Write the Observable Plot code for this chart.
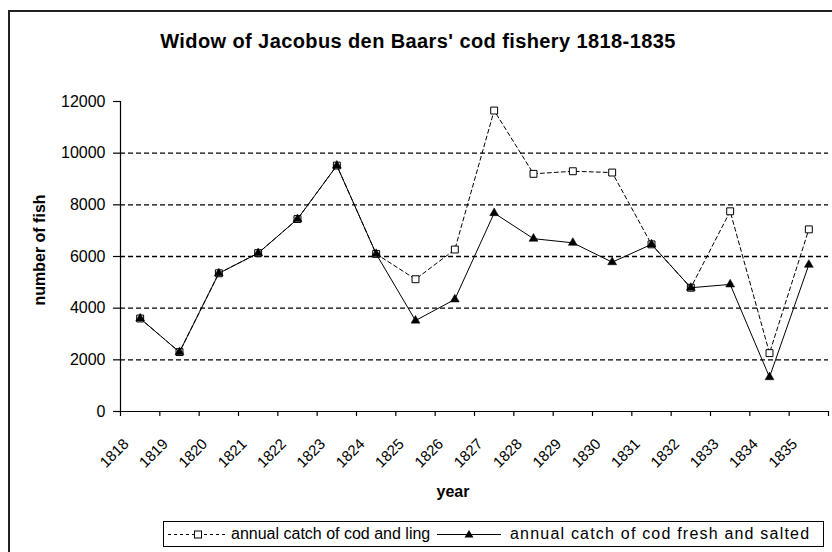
<!DOCTYPE html>
<html><head><meta charset="utf-8">
<script src="https://cdn.jsdelivr.net/npm/d3@7"></script>
<script src="https://cdn.jsdelivr.net/npm/@observablehq/plot@0.6"></script>
<style>
body{margin:0;background:#fff;font-family:Arial,"Liberation Sans",sans-serif;color:#000}
#wrap{position:relative;width:832px;height:552px;overflow:hidden;background:#fff}
#chart{position:absolute;left:0;top:0}
#frame{position:absolute;left:8px;top:10px;width:900px;height:600px;border:2px solid #222;box-sizing:border-box;pointer-events:none}
#title{position:absolute;left:0;width:836px;top:30px;text-align:center;font-weight:bold;font-size:20px;letter-spacing:0.4px;white-space:nowrap}
#ylab{position:absolute;left:40px;top:250px;transform:translate(-50%,-50%) rotate(-90deg);font-weight:bold;font-size:16px;white-space:nowrap}
#xlab{position:absolute;left:453px;top:492px;transform:translate(-50%,-50%);font-weight:bold;font-size:16px;white-space:nowrap}
#legend{position:absolute;left:163px;top:521px;width:661px;height:26px;border:1px solid #000;box-sizing:border-box;font-size:16px}
.lsym{position:absolute;top:0}
.ltxt{position:absolute;top:3px;white-space:nowrap}
</style>
</head><body>
<div id="wrap">
  <div id="chart"></div>
  <div id="title">Widow of Jacobus den Baars' cod fishery 1818-1835</div>
  <div id="ylab">number of fish</div>
  <div id="xlab">year</div>
  <div id="legend">
    <svg class="lsym" style="left:3px" width="62" height="24"><line x1="1" x2="61" y1="12.5" y2="12.5" stroke="#000" stroke-dasharray="3,3"/><rect x="27.5" y="9" width="7" height="7" fill="#fff" stroke="#000"/></svg>
    <div class="ltxt" style="left:67px">annual catch of cod and ling</div>
    <svg class="lsym" style="left:273px" width="64" height="24"><line x1="0" x2="64" y1="12.5" y2="12.5" stroke="#000"/><path d="M32,8 L36.5,15.5 L27.5,15.5 Z" fill="#000"/></svg>
    <div class="ltxt" style="left:346px;letter-spacing:1.2px">annual catch of cod fresh and salted</div>
  </div>
  <div id="frame"></div>
</div>
<script>
const years = [1818,1819,1820,1821,1822,1823,1824,1825,1826,1827,1828,1829,1830,1831,1832,1833,1834,1835];
const codAndLing = [3600,2300,5350,6130,7450,9520,6100,5120,6270,11650,9200,9300,9250,6470,4790,7750,2260,7050];
const codFreshSalted = [3600,2300,5350,6130,7450,9520,6100,3520,4340,7680,6690,6530,5780,6470,4790,4920,1330,5680];
const yTicks = [0,2000,4000,6000,8000,10000,12000];
const gridValues = [2000,4000,6000,8000,10000];
const yearBounds = years.map(y => y - 0.5).concat([years[years.length-1] + 0.5]);

const ling = years.map((year, i) => ({year, value: codAndLing[i]}));
const fresh = years.map((year, i) => ({year, value: codFreshSalted[i]}));

const chart = Plot.plot({
  width: 832,
  height: 480,
  marginLeft: 120,
  marginRight: 4,
  marginTop: 101,
  marginBottom: 69,
  style: {fontFamily: "Arial, 'Liberation Sans', sans-serif", color: "#000", background: "transparent"},
  x: {domain: [1817.5, 1835.5]},
  y: {domain: [0, 12000]},
  marks: [
    Plot.ruleY(gridValues, {stroke: "#000", strokeWidth: 1.4, strokeDasharray: "5,3"}),
    Plot.ruleY([0], {stroke: "#000", strokeWidth: 1.2}),
    Plot.ruleX([1817.5], {stroke: "#000", strokeWidth: 1.2}),
    Plot.axisY(yTicks, {tickSize: 7, tickPadding: 8, fontSize: 16, label: null, tickFormat: d3.format("d"), strokeWidth: 1.2}),
    Plot.axisX(yearBounds, {tickSize: 5, tickFormat: () => "", label: null, strokeWidth: 1.2}),
    Plot.axisX(years, {tickSize: 0, tickRotate: -45, tickPadding: 30, fontSize: 15, label: null, tickFormat: d3.format("d"), dx: -14}),
    Plot.line(ling, {x: "year", y: "value", stroke: "#000", strokeWidth: 1, strokeDasharray: "4,3"}),
    Plot.dot(ling, {x: "year", y: "value", symbol: "square", r: 3.9, fill: "#fff", stroke: "#000", strokeWidth: 1}),
    Plot.line(fresh, {x: "year", y: "value", stroke: "#000", strokeWidth: 1}),
    Plot.dot(fresh, {x: "year", y: "value", symbol: "triangle", r: 3.3, fill: "#000", stroke: "#000", strokeWidth: 0.5})
  ]
});
document.getElementById("chart").appendChild(chart);
</script>
</body></html>
